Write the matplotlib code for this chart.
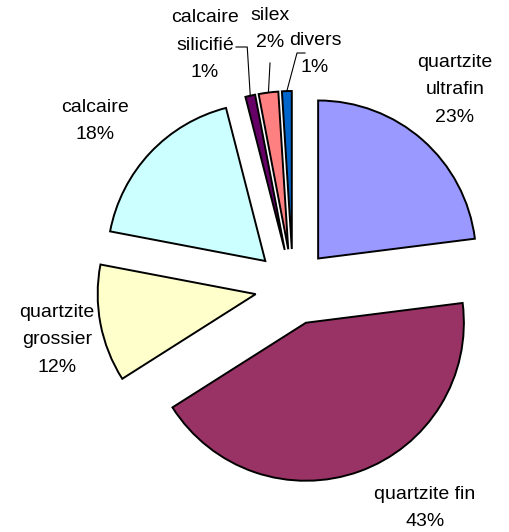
import matplotlib
matplotlib.use("Agg")
import matplotlib.pyplot as plt
import numpy as np

categories = ["quartzite\nultrafin", "quartzite fin", "quartzite\ngrossier",
              "calcaire", "calcaire\nsilicifié", "silex", "divers"]
shares = [23, 43, 12, 18, 1, 2, 1]
colors = ["#9999FF", "#993366", "#FFFFCC", "#CCFFFF", "#660066", "#FF8080", "#0066CC"]

# label centres, in pixels (y up)
label_pos = [(455, 442), (425, 24), (57, 192), (95, 411), (205, 487), (270, 503), (315, 478)]

plt.rcParams['font.family'] = ['Liberation Sans', 'DejaVu Sans']

fig = plt.figure(figsize=(5.09, 5.32), dpi=100)
ax = fig.add_axes([0, 0, 1, 1])

radius = 158
wedges, _ = ax.pie(shares, colors=colors, startangle=90, counterclock=False,
                   explode=[38] * len(shares), radius=radius, center=(293, 245),
                   wedgeprops=dict(edgecolor='black', linewidth=1.4))
ax.set_xlim(0, 509)
ax.set_ylim(0, 532)
ax.set_aspect('equal')
ax.axis('off')

for i, (cat, val) in enumerate(zip(categories, shares)):
    x, y = label_pos[i]
    ax.text(x, y, f"{cat}\n{val}%", ha='center', va='center', fontsize=14,
            linespacing=1.8)


def rim_point(w):
    mid = np.deg2rad((w.theta1 + w.theta2) / 2)
    cx, cy = w.center
    return cx + w.r * np.cos(mid), cy + w.r * np.sin(mid)


# leader lines for the small slices
px, py = rim_point(wedges[4])
ax.plot([236, px - 3, px], [485, 485, py], color='black', lw=0.8)
px, py = rim_point(wedges[5])
ax.plot([270, px], [469, py], color='black', lw=0.8)
px, py = rim_point(wedges[6])
ax.plot([305, 297, px], [479, 479, py], color='black', lw=0.8)

fig.savefig("out.png", dpi=100)
